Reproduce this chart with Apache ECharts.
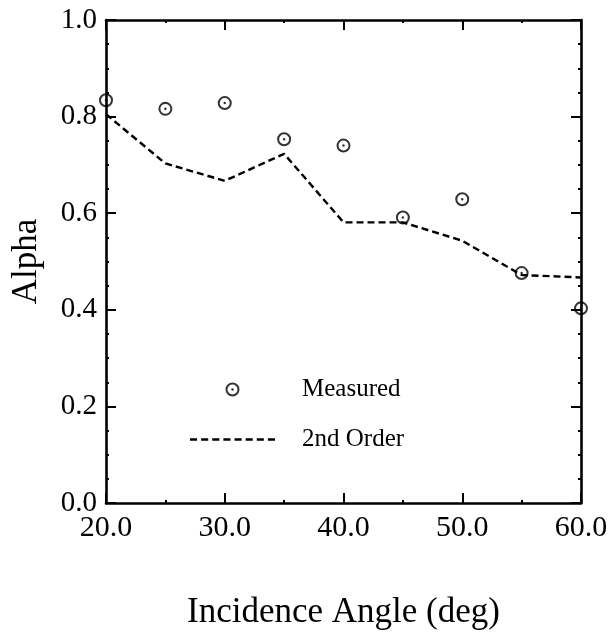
<!DOCTYPE html>
<html>
<head>
<meta charset="utf-8">
<script src="https://cdn.jsdelivr.net/npm/echarts@6/dist/echarts.min.js"></script>
<style>
html,body{margin:0;padding:0;background:#fff;}
#chart{width:614px;height:641px;}
</style>
</head>
<body>
<div id="chart"></div>
<script>
// Data
var angles = [20, 25, 30, 35, 40, 45, 50, 55, 60];
var measured = [0.834, 0.816, 0.828, 0.753, 0.740, 0.591, 0.629, 0.476, 0.403];
var secondOrder = [0.805, 0.703, 0.667, 0.723, 0.581, 0.581, 0.543, 0.472, 0.467];
var seriesNames = ['Measured', '2nd Order'];
var xTitle = 'Incidence Angle (deg)';
var yTitle = 'Alpha';

var FONT = 'Liberation Serif';
var ringPath = 'path://M0,10 A10,10 0 1,1 20,10 A10,10 0 1,1 0,10 Z ' +
  'M2.9,10 A7.1,7.1 0 1,0 17.1,10 A7.1,7.1 0 1,0 2.9,10 Z ' +
  'M8.2,10 A1.8,1.8 0 1,1 11.8,10 A1.8,1.8 0 1,1 8.2,10 Z';

// dashed-line legend icon (8 dashes)
var dashIcon = 'path://';
for (var k = 0; k < 8; k++) { dashIcon += 'M' + (k * 11) + ',0h7v2.4h-7z '; }

function pairs(xs, ys) { return xs.map(function (x, i) { return [x, ys[i]]; }); }

var frameLine = { show: true, onZero: false, lineStyle: { color: '#000', width: 2.6 } };
var majorTick = { show: true, inside: true, length: 10, lineStyle: { color: '#000', width: 2 } };
var minorTick = { show: true, splitNumber: 2, length: 3, lineStyle: { color: '#000', width: 2 } };
var minorTickY = { show: true, splitNumber: 4, length: 3, lineStyle: { color: '#000', width: 2 } };

var chart = echarts.init(document.getElementById('chart'), null, { renderer: 'canvas' });
chart.setOption({
  backgroundColor: '#fff',
  animation: false,
  textStyle: { fontFamily: FONT, color: '#000' },
  grid: { left: 106, right: 33, top: 20, bottom: 138, containLabel: false },
  legend: {
    orient: 'vertical',
    left: 190,
    top: 377,
    padding: 0,
    itemGap: 25,
    itemWidth: 85,
    itemHeight: 14,
    symbolKeepAspect: true,
    selectedMode: false,
    textStyle: { fontFamily: FONT, fontSize: 25, color: '#000', padding: [0, 0, 0, 22] },
    data: [
      { name: seriesNames[0] },
      { name: seriesNames[1], icon: dashIcon, itemStyle: { color: '#000' } }
    ]
  },
  xAxis: [{
    type: 'value', position: 'bottom', min: 20, max: 60, interval: 10,
    axisLine: frameLine, axisTick: majorTick, minorTick: minorTick,
    splitLine: { show: false }, minorSplitLine: { show: false },
    axisLabel: { margin: 10, fontFamily: FONT, fontSize: 30, color: '#000',
      formatter: function (v) { return v.toFixed(1); } },
    name: xTitle, nameLocation: 'middle', nameGap: 92,
    nameTextStyle: { fontFamily: FONT, fontSize: 35, color: '#000' }
  }, {
    type: 'value', position: 'top', min: 20, max: 60, interval: 10,
    axisLine: frameLine, axisTick: majorTick, minorTick: minorTick,
    splitLine: { show: false }, axisLabel: { show: false }
  }],
  yAxis: [{
    type: 'value', position: 'left', min: 0, max: 1, interval: 0.2,
    axisLine: frameLine, axisTick: majorTick, minorTick: minorTickY,
    splitLine: { show: false }, minorSplitLine: { show: false },
    axisLabel: { margin: 9, fontFamily: FONT, fontSize: 29, color: '#000',
      formatter: function (v) { return v.toFixed(1); } },
    name: yTitle, nameLocation: 'middle', nameGap: 62, nameRotate: 90,
    nameTextStyle: { fontFamily: FONT, fontSize: 35, color: '#000' }
  }, {
    type: 'value', position: 'right', min: 0, max: 1, interval: 0.2,
    axisLine: frameLine, axisTick: majorTick, minorTick: minorTickY,
    splitLine: { show: false }, axisLabel: { show: false }
  }],
  series: [{
    name: seriesNames[0],
    type: 'scatter',
    xAxisIndex: 0, yAxisIndex: 0,
    data: pairs(angles, measured),
    symbol: ringPath,
    symbolSize: 14,
    symbolKeepAspect: true,
    itemStyle: { color: '#000' },
    clip: false,
    z: 3
  }, {
    name: seriesNames[1],
    type: 'line',
    xAxisIndex: 0, yAxisIndex: 0,
    data: pairs(angles, secondOrder),
    symbol: 'none',
    showSymbol: false,
    lineStyle: { color: '#000', width: 2.4, type: [7, 4] },
    itemStyle: { color: '#000' },
    z: 2
  }]
});
</script>
</body>
</html>
